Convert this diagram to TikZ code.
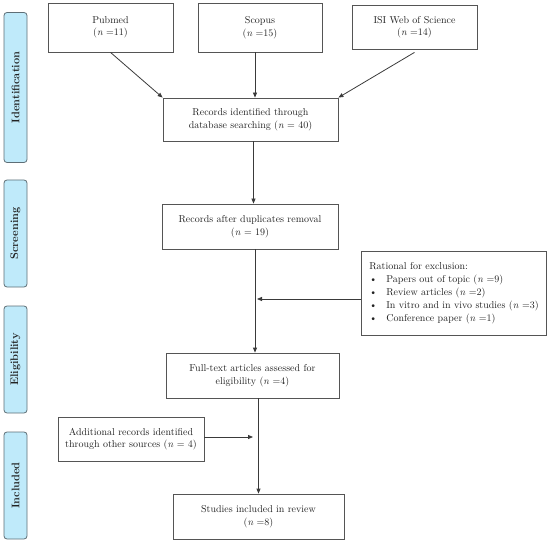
\documentclass[tikz,border=0pt]{standalone}
\usepackage{amsmath,amssymb}
\usetikzlibrary{arrows.meta, positioning, calc}
\definecolor{phasefill}{HTML}{BFEAFA}
\definecolor{phasedraw}{HTML}{5E6E76}
\definecolor{boxdraw}{HTML}{555555}
\definecolor{linegray}{HTML}{3A3A3A}
\definecolor{txtdark}{HTML}{222222}

\tikzset{
  stagebox/.style={draw=boxdraw, line width=0.8pt, fill=white, align=center,
    font=\fontsize{10}{12.5}\selectfont, text=txtdark, inner sep=2pt},
  phasebox/.style={draw=phasedraw, fill=phasefill, line width=0.8pt, rounded corners=3pt,
    rotate=90, minimum height=23pt, inner sep=0pt,
    font=\fontsize{11}{12}\selectfont\bfseries, text=txtdark},
  flow/.style={->, linegray, line width=0.8pt}
}
\newcommand{\nn}[1]{(\textit{n} #1)}

\begin{document}
\begin{tikzpicture}[x=1pt, y=-1pt, >={Triangle[length=5pt, width=4pt]}]

% Canvas
\useasboundingbox (0,0) rectangle (550,543);

% =========== PHASE LABELS ===========
\node[phasebox, minimum width=150pt] (identification) at (15.5,87.5) {Identification};
\node[phasebox, minimum width=107pt] (screening) at (15.5,233.5) {Screening};
\node[phasebox, minimum width=107pt] (eligibility) at (15.5,359.5) {Eligibility};
\node[phasebox, minimum width=107pt] (included) at (15.5,485.5) {Included};

% =========== DATABASES ===========
\node[stagebox, minimum width=125pt, minimum height=49pt] (pubmed) at (110.5,27.5) {Pubmed\\\nn{=11}};
\node[stagebox, minimum width=124pt, minimum height=49pt] (scopus) at (260,27.5) {Scopus\\\nn{=15}};
\node[stagebox, minimum width=125pt, minimum height=44pt] (isi) at (414.5,27) {ISI Web of Science\\\nn{=14}};

% =========== MAIN FLOW ===========
\node[stagebox, minimum width=175pt, minimum height=43pt] (ident) at (250.5,119.5)
  {Records identified through\\database searching \nn{= 40}};
\node[stagebox, minimum width=176pt, minimum height=45pt] (dup) at (250,226.5)
  {Records after duplicates removal\\\nn{= 19}};
\node[stagebox, minimum width=173pt, minimum height=45pt] (full) at (252.5,375.5)
  {Full-text articles assessed for\\eligibility \nn{=4}};
\node[stagebox, minimum width=171pt, minimum height=45pt] (studies) at (258.5,516.5)
  {Studies included in review\\\nn{=8}};

% =========== SIDE BOXES ===========
\node[stagebox, align=left, minimum width=182pt, minimum height=84pt, inner sep=8pt,
      font=\fontsize{10}{13}\selectfont] (excl) at (454,293)
  {Rational for exclusion:\\
   \makebox[17pt][l]{\textbullet}Papers out of topic \nn{=9}\\
   \makebox[17pt][l]{\textbullet}Review articles \nn{=2}\\
   \makebox[17pt][l]{\textbullet}In vitro and in vivo studies \nn{=3}\\
   \makebox[17pt][l]{\textbullet}Conference paper \nn{=1}};
\node[stagebox, minimum width=146pt, minimum height=44pt] (add) at (131,439)
  {Additional records identified\\through other sources \nn{= 4}};

% Arrow ends on the spine
\coordinate (excl-in) at (257,299);
\coordinate (add-in) at (253,437);

% =========== CONNECTORS ===========
\draw[flow] (pubmed.south) -- (ident.north west);
\draw[flow] ([xshift=-5pt]scopus.south) -- ([xshift=-5pt]scopus.south |- ident.north);
\draw[flow] ([yshift=-3pt]isi.south) -- (ident.north east);
\draw[flow] ([xshift=3pt]ident.south) -- ([xshift=3pt]ident.south |- dup.north);
\draw[flow] ([xshift=5pt]dup.south) -- ([xshift=5pt]dup.south |- full.north);
\draw[flow] (excl.west |- excl-in) -- (excl-in);
\draw[flow] (studies.north |- full.south) -- (studies.north);
\draw[flow] (add.east |- add-in) -- (add-in);

\end{tikzpicture}
\end{document}
